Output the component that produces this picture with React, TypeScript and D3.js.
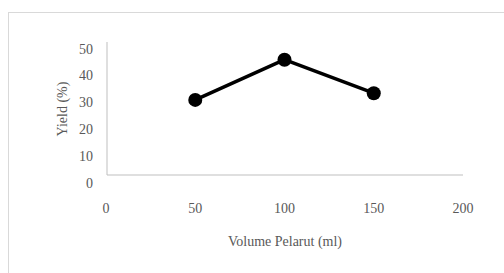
import * as d3 from 'd3';

const volumes = [50, 100, 150];
const yields = [31, 46, 33.5];
const xTicks = [0, 50, 100, 150, 200];
const yTicks = [0, 10, 20, 30, 40, 50];

const W = 504;
const H = 273;
const textColor = '#595959';
const axisColor = '#bfbfbf';
const font = 'Liberation Serif, DejaVu Serif, serif';
const fontSize = 14;

const App = () => {
    const x = d3.scaleLinear().domain([0, 200]).range([106, 463]);
    const y = d3.scaleLinear().domain([0, 50]).range([183, 49]);

    // plot area lines sit a little above the "0" label, like the original export
    const axisY = y(0) - 8;
    const axisTop = y(50) - 7;

    const line = d3.line<number>()
        .x((d, i) => x(volumes[i]))
        .y(d => y(d));

    return (
        <svg width={W} height={H} style={{position: 'fixed', left: 0, top: 0}}>
            <rect x={0} y={0} width={W} height={H} fill="#fff"/>
            <rect x={8.5} y={12.5} width={W + 10} height={H + 10} fill="none" stroke="#d9d9d9" strokeWidth={1}/>

            <line x1={x(0) + 1} x2={x(0) + 1} y1={axisTop} y2={axisY} stroke={axisColor} strokeWidth={1}/>
            <line x1={x(0) + 1} x2={x(200)} y1={axisY} y2={axisY} stroke={axisColor} strokeWidth={1}/>

            <g fontFamily={font} fontSize={fontSize} fill={textColor}>
                {yTicks.map(t => (
                    <text key={'y' + t} x={93} y={y(t)} textAnchor="end" dominantBaseline="central">{t}</text>
                ))}
                {xTicks.map(t => (
                    <text key={'x' + t} x={x(t)} y={208} textAnchor="middle" dominantBaseline="central">{t}</text>
                ))}
                <text x={285} y={241} textAnchor="middle" dominantBaseline="central">Volume Pelarut (ml)</text>
                <text transform={`translate(62,109) rotate(-90)`} textAnchor="middle"
                      dominantBaseline="central">Yield (%)</text>
            </g>

            <path d={line(yields) ?? ''} fill="none" stroke="#000" strokeWidth={3.5} strokeLinejoin="round"/>
            {yields.map((v, i) => (
                <circle key={i} cx={x(volumes[i])} cy={y(v)} r={7} fill="#000"/>
            ))}
        </svg>
    );
};

export default App;
